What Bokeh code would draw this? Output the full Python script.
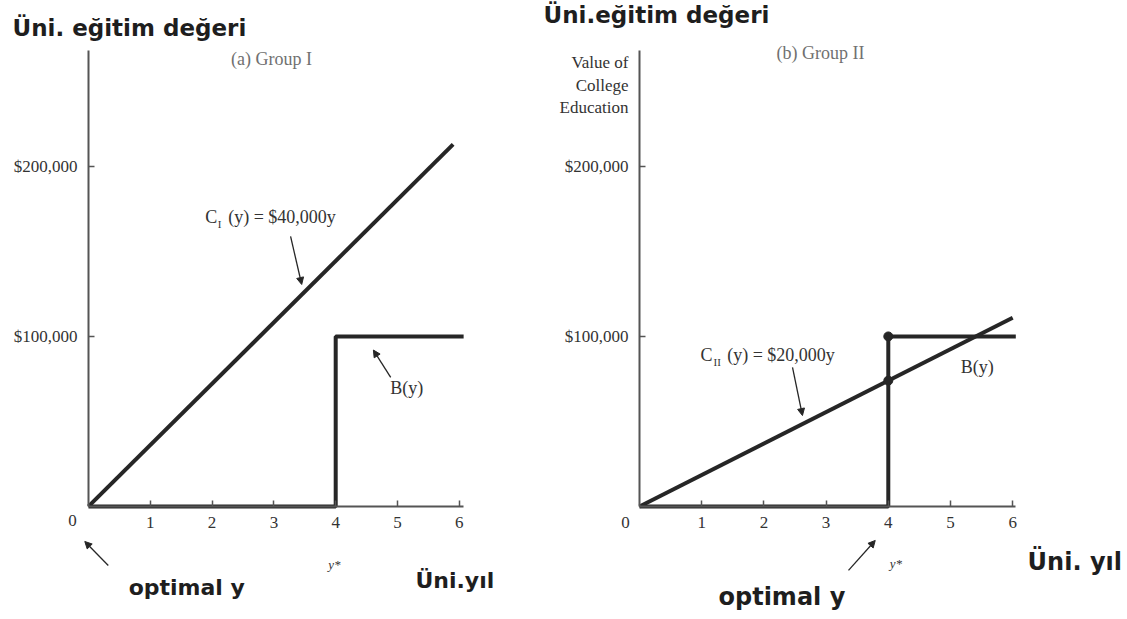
from bokeh.plotting import figure
from bokeh.layouts import row
from bokeh.models import Label, Arrow, NormalHead, FixedTicker, Range1d
from bokeh.embed import file_html
from bokeh.resources import INLINE
import numpy as np

# ---- data ----
year_ticks = [1, 2, 3, 4, 5, 6]
value_ticks = [100000, 200000]
value_tick_labels = ["$100,000", "$200,000"]

# Group I
c1_x = [0, 5.9]
c1_y = [0, 213000]
b1_x = [0, 4, 4, 6.07]
b1_y = [0, 0, 100000, 100000]

# Group II
c2_x = [0, 6.0]
c2_y = [0, 111000]
b2_x = [0, 4, 4, 6.05]
b2_y = [0, 0, 100000, 100000]
dots_x = [4, 4]
dots_y = [100000, 74000]

INK = "#262626"
SERIF = "Liberation Serif"
SANS = "DejaVu Sans"
BIG = "#1e1e1e"
H = 619
Y_TOP = 297600
Y_BOT = -66500


def base_fig(width, x0, x1, xbound):
    p = figure(width=width, height=H, output_backend="svg", toolbar_location=None,
               x_range=Range1d(x0, x1), y_range=Range1d(Y_BOT, Y_TOP),
               min_border=0)
    p.grid.visible = False
    p.outline_line_color = None
    p.background_fill_color = "white"
    p.border_fill_color = "white"
    for ax in (p.xaxis[0], p.yaxis[0]):
        ax.fixed_location = 0
        ax.axis_line_color = "#555555"
        ax.axis_line_width = 2
        ax.major_tick_in = 6
        ax.major_tick_out = 0
        ax.major_tick_line_color = "#555555"
        ax.major_tick_line_width = 1.5
        ax.minor_tick_line_color = None
        ax.major_label_text_font = SERIF
        ax.major_label_text_font_size = "17px"
        ax.major_label_text_color = "#333333"
    p.xaxis.ticker = FixedTicker(ticks=year_ticks)
    p.xaxis.major_label_standoff = 11
    p.xaxis.bounds = (0, xbound)
    p.yaxis.ticker = FixedTicker(ticks=value_ticks)
    p.yaxis.major_label_overrides = {t: l for t, l in zip(value_ticks, value_tick_labels)}
    p.yaxis.major_label_standoff = 11
    p.yaxis.bounds = (0, 268000)
    return p


def lab(p, x, y, text, size, font=SERIF, style="normal", color="#333333",
        align="left", baseline="middle"):
    p.add_layout(Label(x=x, y=y, text=text, text_font=font, text_font_size=size,
                       text_font_style=style, text_color=color,
                       text_align=align, text_baseline=baseline))


def arr(p, xs, ys, xe, ye):
    p.add_layout(Arrow(end=NormalHead(size=7, fill_color=INK, line_color=INK),
                       x_start=xs, y_start=ys, x_end=xe, y_end=ye,
                       line_color=INK, line_width=1.3))


# ---------------- left panel ----------------
p1 = base_fig(540, -1.424, 7.314, 6.07)
p1.line(c1_x, c1_y, line_color=INK, line_width=4)
p1.line(b1_x, b1_y, line_color=INK, line_width=4)

lab(p1, -1.23, 281500, "Üni. eğitim değeri", "23px", SANS, "bold", BIG)
lab(p1, 2.96, 263000, "(a) Group I", "18px", color="#707070", align="center")
lab(p1, 1.89, 170000, "C", "18px")
lab(p1, 2.09, 166000, "I", "11px")
lab(p1, 2.26, 170000, "(y) = $40,000y", "18px")
lab(p1, 5.15, 69400, "B(y)", "18px", align="center")
lab(p1, -0.26, -8200, "0", "17px", align="center")
lab(p1, 3.98, -34000, "y*", "13px", style="italic", align="center")
lab(p1, 0.65, -47700, "optimal y", "22px", SANS, "bold", BIG)
lab(p1, 5.29, -43500, "Üni.yıl", "22px", SANS, "bold", BIG)

tip1 = 3.45
arr(p1, 3.27, 158800, tip1, float(np.interp(tip1, c1_x, c1_y)) + 6000)
arr(p1, 4.89, 75900, 4.61, 92000)
arr(p1, 0.32, -34700, -0.06, -20600)

# ---------------- right panel ----------------
p2 = base_fig(587, -1.592, 7.846, 6.05)
p2.line(c2_x, c2_y, line_color=INK, line_width=4)
p2.line(b2_x, b2_y, line_color=INK, line_width=4)
p2.scatter(dots_x, dots_y, size=9, fill_color=INK, line_color=INK)

lab(p2, -1.543, 289000, "Üni.eğitim değeri", "23px", SANS, "bold", BIG)
lab(p2, 2.91, 266500, "(b) Group II", "18px", color="#707070", align="center")
lab(p2, -0.177, 261200, "Value of", "17px", align="right")
lab(p2, -0.177, 247600, "College", "17px", align="right")
lab(p2, -0.177, 234700, "Education", "17px", align="right")
lab(p2, 0.98, 88800, "C", "18px")
lab(p2, 1.19, 84700, "II", "11px")
lab(p2, 1.41, 88800, "(y) = $20,000y", "18px")
lab(p2, 5.43, 81800, "B(y)", "18px", align="center")
lab(p2, -0.225, -9400, "0", "17px", align="center")
lab(p2, 4.12, -33500, "y*", "13px", style="italic", align="center")
lab(p2, 1.27, -53500, "optimal y", "24px", SANS, "bold", BIG)
lab(p2, 6.24, -32400, "Üni. yıl", "24px", SANS, "bold", BIG)

tip2 = 2.62
arr(p2, 2.46, 81800, tip2, float(np.interp(tip2, c2_x, c2_y)) + 5000)
arr(p2, 3.36, -37600, 3.79, -20000)

layout = row(p1, p2)
open("out.html", "w").write(file_html(layout, INLINE))
